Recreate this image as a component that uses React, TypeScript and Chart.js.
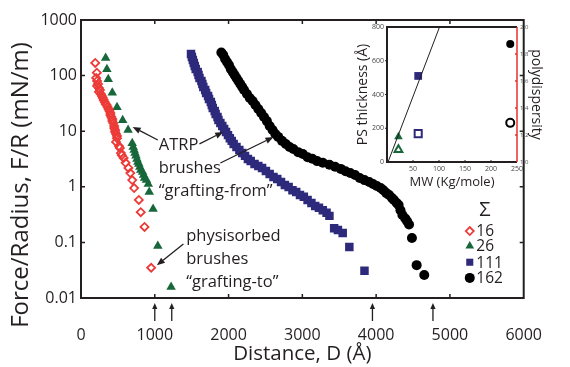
import React, { useEffect, useRef } from 'react';
import { Chart, registerables } from 'chart.js';
import { drawPoint } from 'chart.js/helpers';

Chart.register(...registerables);

const FONT = '"Open Sans", sans-serif';
const INK = '#231f20';
const RED = '#ec3b37';
const GREEN = '#17673a';
const NAVY = '#2d2a7c';
const BLACK = '#000000';
const PD_RED = '#e8322c';

// ---- main chart data (Distance D in Å, Force/Radius in mN/m) ----
const redD = [193, 215, 206, 218, 231, 218, 244, 257, 244, 270, 283, 296, 308, 321, 334, 347, 360, 373, 386, 398, 398, 411, 424, 424, 437, 450, 450, 463, 463, 475, 488, 488, 475, 514, 527, 540, 553, 578, 604, 643, 668, 694, 720, 784, 810, 861, 951];
const redF = [169, 113, 90.6, 80, 70.6, 65, 59.8, 55.1, 50.7, 46.7, 43, 39.6, 36.4, 33.5, 30.8, 29.6, 27.2, 25.1, 23.1, 21.2, 19.5, 18, 16.6, 15.2, 14, 12.4, 11.4, 10.5, 9.7, 8.9, 8.2, 7.5, 6.4, 5.4, 5.0, 4.05, 3.7, 3.3, 2.7, 2.18, 1.77, 1.32, 0.95, 0.58, 0.35, 0.19, 0.035];

const greenD = [334, 351, 369, 424, 488, 565, 638, 694, 707, 720, 732, 745, 758, 771, 784, 797, 810, 835, 848, 861, 887, 912, 925, 977, 1041, 1221];
const greenF = [207, 130, 86, 49, 27, 15.8, 10.5, 6.1, 5.2, 4.6, 4.05, 3.6, 3.16, 2.8, 2.57, 2.27, 2.0, 1.85, 1.63, 1.44, 1.32, 1.12, 0.81, 0.40, 0.086, 0.0158];

const navyD = [1491, 1503, 1516, 1529, 1542, 1555, 1581, 1593, 1606, 1632, 1645, 1658, 1683, 1696, 1722, 1735, 1760, 1773, 1786, 1812, 1825, 1850, 1863, 1889, 1915, 1940, 1966, 1992, 2017, 2043, 2069, 2107, 2146, 2185, 2223, 2262, 2300, 2352, 2403, 2454, 2506, 2557, 2609, 2660, 2711, 2763, 2814, 2866, 2917, 2968, 3020, 3071, 3123, 3174, 3225, 3277, 3328, 3367, 3431, 3482, 3547, 3637, 3842];
const navyF = [244, 216, 191, 169, 149, 131, 116, 103, 90.6, 80, 70.6, 62.4, 55.1, 48.6, 43, 37.9, 33.5, 29.6, 26.1, 23.1, 20.4, 18, 15.9, 14, 12.4, 11, 9.7, 8.5, 7.5, 6.7, 5.9, 5.2, 4.6, 4.05, 3.6, 3.16, 2.9, 2.57, 2.37, 2.18, 1.92, 1.7, 1.5, 1.38, 1.22, 1.08, 0.99, 0.87, 0.81, 0.71, 0.66, 0.58, 0.51, 0.45, 0.42, 0.38, 0.34, 0.30, 0.18, 0.167, 0.148, 0.083, 0.031];

const blackD = [1902, 1928, 1953, 1979, 2005, 2030, 2056, 2082, 2107, 2133, 2159, 2185, 2210, 2249, 2287, 2326, 2364, 2403, 2442, 2480, 2519, 2557, 2596, 2634, 2673, 2724, 2776, 2827, 2878, 2943, 3007, 3071, 3135, 3200, 3277, 3367, 3444, 3521, 3585, 3649, 3714, 3778, 3842, 3906, 3958, 4009, 4061, 4099, 4138, 4176, 4215, 4241, 4279, 4305, 4330, 4356, 4395, 4420, 4446, 4485, 4549, 4652];
const blackF = [260, 235, 199, 176, 155, 131, 116, 102.5, 90.5, 80, 70.6, 62.4, 55.1, 46.7, 39.6, 34.9, 29.6, 25.1, 21.2, 18, 15.2, 12.4, 10.5, 8.9, 7.9, 6.7, 5.9, 5.2, 4.8, 4.2, 3.9, 3.4, 3.2, 2.9, 2.7, 2.5, 2.3, 2.1, 1.9, 1.77, 1.63, 1.44, 1.32, 1.22, 1.12, 1.03, 0.95, 0.87, 0.77, 0.71, 0.63, 0.58, 0.51, 0.47, 0.38, 0.31, 0.27, 0.24, 0.21, 0.12, 0.039, 0.026];

const xTicks = [0, 1000, 2000, 3000, 4000, 5000, 6000];
const yTicks = [0.01, 0.1, 1, 10, 100, 1000];
const endArrowsD = [1000, 1230, 3950, 4770];

const legendLabels = ['16', '26', '111', '162'];
const legendY = [0.16, 0.086, 0.044, 0.023];
const legendMarkerX = 5269;
const legendTextX = 5358;
const sigmaPos = [5474, 0.38];

const noteTexts = [
  { text: 'ATRP', x: 1054, y: 5.65 },
  { text: 'brushes', x: 1054, y: 2.18 },
  { text: '\u201cgrafting-from\u201d', x: 1054, y: 0.84 },
  { text: 'physisorbed', x: 1426, y: 0.13 },
  { text: 'brushes', x: 1426, y: 0.05 },
  { text: '\u201cgrafting-to\u201d', x: 1426, y: 0.0194 },
];
const noteArrows = [
  { from: [1041, 6.95], to: [700, 11.9] },
  { from: [1606, 5.9], to: [1928, 9.7] },
  { from: [1889, 2.68], to: [2609, 7.87] },
  { from: [1388, 0.094], to: [1028, 0.039] },
];

// ---- inset data ----
const insetMW = [22, 60, 237];
const insetThickness = [150, 510, 699];
const insetPolydispersity = [1.09, 1.21, 1.29];
const fitMW = [2, 101];
const fitThickness = [0, 800];

const seriesStyles = [
  { style: 'rectRot', radius: 4, color: RED, fill: 'rgba(0,0,0,0)', bw: 1.8 },
  { style: 'triangle', radius: 5.5, color: GREEN, fill: GREEN, bw: 0 },
  { style: 'rect', radius: 6, color: NAVY, fill: NAVY, bw: 0 },
  { style: 'circle', radius: 5, color: BLACK, fill: BLACK, bw: 0 },
];

function pts(xs: number[], ys: number[]) {
  return xs.map((x, i) => ({ x, y: ys[i] }));
}

function arrow(ctx: CanvasRenderingContext2D, x1: number, y1: number, x2: number, y2: number, len: number, half: number) {
  const a = Math.atan2(y2 - y1, x2 - x1);
  const bx = x2 - len * Math.cos(a);
  const by = y2 - len * Math.sin(a);
  ctx.beginPath();
  ctx.moveTo(x1, y1);
  ctx.lineTo(bx, by);
  ctx.stroke();
  ctx.beginPath();
  ctx.moveTo(x2, y2);
  ctx.lineTo(bx + half * Math.sin(a), by - half * Math.cos(a));
  ctx.lineTo(bx - half * Math.sin(a), by + half * Math.cos(a));
  ctx.closePath();
  ctx.fill();
}

const mainDecor = {
  id: 'mainDecor',
  afterDraw(chart: any) {
    const { ctx, chartArea: a, scales } = chart;
    const xs = scales.x;
    const ys = scales.y;
    ctx.save();
    ctx.strokeStyle = INK;
    ctx.lineWidth = 2;
    ctx.strokeRect(a.left, a.top, a.right - a.left, a.bottom - a.top);
    ctx.lineWidth = 1.5;
    ctx.beginPath();
    xTicks.slice(1, -1).forEach((v) => {
      const px = xs.getPixelForValue(v);
      ctx.moveTo(px, a.top); ctx.lineTo(px, a.top + 4);
      ctx.moveTo(px, a.bottom); ctx.lineTo(px, a.bottom - 4);
    });
    yTicks.slice(1, -1).forEach((v) => {
      const py = ys.getPixelForValue(v);
      ctx.moveTo(a.left, py); ctx.lineTo(a.left + 4, py);
      ctx.moveTo(a.right, py); ctx.lineTo(a.right - 4, py);
    });
    ctx.stroke();
    ctx.fillStyle = INK;
    ctx.lineWidth = 1.3;
    endArrowsD.forEach((d) => {
      const px = xs.getPixelForValue(d);
      arrow(ctx, px, a.bottom + 23, px, a.bottom + 5, 6, 2.6);
    });
    ctx.save();
    ctx.translate(21, 185);
    ctx.rotate(-Math.PI / 2);
    ctx.font = `24px ${FONT}`;
    ctx.textAlign = 'center';
    ctx.textBaseline = 'middle';
    ctx.fillStyle = INK;
    ctx.fillText('Force/Radius, F/R (mN/m)', 0, 0);
    ctx.restore();
    ctx.font = `16.5px ${FONT}`;
    ctx.textAlign = 'left';
    ctx.textBaseline = 'middle';
    ctx.fillStyle = INK;
    noteTexts.forEach((t) => ctx.fillText(t.text, xs.getPixelForValue(t.x), ys.getPixelForValue(t.y)));
    ctx.lineWidth = 1.3;
    noteArrows.forEach((n) => {
      arrow(ctx, xs.getPixelForValue(n.from[0]), ys.getPixelForValue(n.from[1]), xs.getPixelForValue(n.to[0]), ys.getPixelForValue(n.to[1]), 8, 3.2);
    });
    ctx.font = `20px ${FONT}`;
    ctx.textAlign = 'center';
    ctx.fillText('\u03a3', xs.getPixelForValue(sigmaPos[0]), ys.getPixelForValue(sigmaPos[1]));
    ctx.font = `15.5px ${FONT}`;
    ctx.textAlign = 'left';
    legendLabels.forEach((lab, i) => {
      const st = seriesStyles[i];
      const py = ys.getPixelForValue(legendY[i]);
      ctx.save();
      ctx.fillStyle = st.fill;
      ctx.strokeStyle = st.color;
      ctx.lineWidth = st.bw;
      const r = i === 2 ? 5 : i === 1 ? 5 : st.radius;
      drawPoint(ctx, { pointStyle: st.style, radius: r, borderWidth: st.bw, rotation: 0 } as any, xs.getPixelForValue(legendMarkerX), py);
      ctx.restore();
      ctx.fillStyle = INK;
      ctx.fillText(lab, xs.getPixelForValue(legendTextX), py + 1);
    });
    ctx.restore();
  },
};

const insetDecor = {
  id: 'insetDecor',
  beforeDatasetsDraw(chart: any) {
    const { ctx, chartArea: a } = chart;
    ctx.save();
    ctx.fillStyle = '#ffffff';
    ctx.fillRect(a.left, a.top, a.right - a.left, a.bottom - a.top);
    ctx.restore();
  },
  afterDraw(chart: any) {
    const { ctx, chartArea: a, scales } = chart;
    ctx.save();
    ctx.strokeStyle = INK;
    ctx.lineWidth = 2;
    ctx.beginPath();
    ctx.moveTo(a.right, a.top);
    ctx.lineTo(a.left, a.top);
    ctx.lineTo(a.left, a.bottom);
    ctx.lineTo(a.right, a.bottom);
    ctx.stroke();
    ctx.lineWidth = 1;
    ctx.beginPath();
    [200, 400, 600].forEach((v) => {
      const py = scales.y.getPixelForValue(v);
      ctx.moveTo(a.left - 2, py); ctx.lineTo(a.left, py);
    });
    [50, 100, 150, 200].forEach((v) => {
      const px = scales.x.getPixelForValue(v);
      ctx.moveTo(px, a.bottom); ctx.lineTo(px, a.bottom - 2);
    });
    ctx.stroke();
    ctx.strokeStyle = PD_RED;
    ctx.lineWidth = 1.5;
    ctx.beginPath();
    ctx.moveTo(a.right, a.top);
    ctx.lineTo(a.right, a.bottom);
    [1.2, 1.4, 1.6, 1.8].forEach((v) => {
      const py = scales.y2.getPixelForValue(v);
      ctx.moveTo(a.right - 2, py); ctx.lineTo(a.right, py);
    });
    ctx.stroke();
    ctx.restore();
  },
};

export default function App() {
  const mainRef = useRef<HTMLCanvasElement>(null);
  const insetRef = useRef<HTMLCanvasElement>(null);

  useEffect(() => {
    document.body.style.margin = '0';
    Chart.defaults.font.family = FONT;
    Chart.defaults.color = INK;

    const seriesData = [pts(redD, redF), pts(greenD, greenF), pts(navyD, navyF), pts(blackD, blackF)];
    const main = new Chart(mainRef.current as HTMLCanvasElement, {
      type: 'scatter',
      data: {
        datasets: seriesData.map((d, i) => ({
          label: legendLabels[i],
          data: d,
          pointStyle: seriesStyles[i].style as any,
          pointRadius: seriesStyles[i].radius,
          pointBackgroundColor: seriesStyles[i].fill,
          pointBorderColor: seriesStyles[i].color,
          pointBorderWidth: seriesStyles[i].bw,
          showLine: false,
        })),
      },
      options: {
        responsive: false,
        animation: false,
        layout: { padding: { top: 20, right: 22, left: 0, bottom: 0 } },
        plugins: { legend: { display: false }, tooltip: { enabled: false } },
        scales: {
          x: {
            type: 'linear',
            min: 0,
            max: 6000,
            afterBuildTicks: (s: any) => { s.ticks = xTicks.map((v) => ({ value: v })); },
            ticks: { font: { size: 16 }, padding: 28, color: INK, maxRotation: 0, autoSkip: false, callback: (v: any) => String(v) },
            grid: { display: false, drawTicks: false },
            border: { display: false },
            title: { display: true, text: 'Distance, D (\u00c5)', font: { size: 20.5 }, color: INK, padding: { top: 0, bottom: 1 } },
            afterFit: (s: any) => { s.height = 69; },
          },
          y: {
            type: 'logarithmic',
            min: 0.01,
            max: 1000,
            afterBuildTicks: (s: any) => { s.ticks = yTicks.map((v) => ({ value: v })); },
            ticks: { font: { size: 16 }, padding: 4, color: INK, autoSkip: false, callback: (v: any) => String(v) },
            grid: { display: false, drawTicks: false },
            border: { display: false },
            afterFit: (s: any) => { s.width = 81; },
          },
        },
      } as any,
      plugins: [mainDecor],
    });

    const inset = new Chart(insetRef.current as HTMLCanvasElement, {
      type: 'scatter',
      data: {
        datasets: [
          { type: 'line', data: pts(fitMW, fitThickness), borderColor: INK, borderWidth: 1, pointRadius: 0, yAxisID: 'y' } as any,
          { data: [{ x: insetMW[0], y: insetThickness[0] }], pointStyle: 'triangle', pointRadius: 5, pointBackgroundColor: GREEN, pointBorderColor: GREEN, pointBorderWidth: 0, yAxisID: 'y' },
          { data: [{ x: insetMW[0], y: insetPolydispersity[0] }], pointStyle: 'triangle', pointRadius: 4.5, pointBackgroundColor: '#ffffff', pointBorderColor: GREEN, pointBorderWidth: 2, yAxisID: 'y2' },
          { data: [{ x: insetMW[1], y: insetThickness[1] }], pointStyle: 'rect', pointRadius: 5.5, pointBackgroundColor: NAVY, pointBorderColor: NAVY, pointBorderWidth: 0, yAxisID: 'y' },
          { data: [{ x: insetMW[1], y: insetPolydispersity[1] }], pointStyle: 'rect', pointRadius: 5, pointBackgroundColor: '#ffffff', pointBorderColor: NAVY, pointBorderWidth: 2, yAxisID: 'y2' },
          { data: [{ x: insetMW[2], y: insetThickness[2] }], pointStyle: 'circle', pointRadius: 4, pointBackgroundColor: BLACK, pointBorderColor: BLACK, pointBorderWidth: 0, yAxisID: 'y' },
          { data: [{ x: insetMW[2], y: insetPolydispersity[2] }], pointStyle: 'circle', pointRadius: 4, pointBackgroundColor: '#ffffff', pointBorderColor: BLACK, pointBorderWidth: 2, yAxisID: 'y2' },
        ],
      },
      options: {
        responsive: false,
        animation: false,
        layout: { padding: { top: 17, right: 0, left: 0, bottom: 0 } },
        plugins: { legend: { display: false }, tooltip: { enabled: false } },
        scales: {
          x: {
            type: 'linear',
            min: 0,
            max: 250,
            ticks: { stepSize: 50, font: { size: 7 }, padding: 3, color: '#444', callback: (v: any) => (v === 0 ? '' : String(v)) },
            grid: { display: false, drawTicks: false },
            border: { display: false },
            title: { display: true, text: 'MW (Kg/mole)', font: { size: 13 }, color: INK, padding: { top: 0, bottom: 5 } },
            afterFit: (s: any) => { s.height = 33; },
          },
          y: {
            position: 'left',
            min: 0,
            max: 800,
            ticks: { stepSize: 200, font: { size: 7 }, padding: 3, color: '#444' },
            grid: { display: false, drawTicks: false },
            border: { display: false },
            title: { display: true, text: 'PS thickness (\u00c5)', font: { size: 14 }, color: INK, padding: { top: 15, bottom: 0 } },
            afterFit: (s: any) => { s.width = 47; },
          },
          y2: {
            position: 'right',
            min: 1,
            max: 2,
            ticks: { stepSize: 0.2, font: { size: 6 }, padding: 3, color: '#555', callback: (v: any) => Number(v).toFixed(1) },
            grid: { display: false, drawTicks: false },
            border: { display: false },
            title: { display: true, text: 'polydispersity', font: { size: 14 }, color: INK, padding: { top: 11, bottom: 0 } },
            afterFit: (s: any) => { s.width = 38; },
          },
        },
      } as any,
      plugins: [insetDecor],
    });

    return () => {
      main.destroy();
      inset.destroy();
    };
  }, []);

  return (
    <div style={{ position: 'relative', width: 570, height: 367, background: '#fff' }}>
      <canvas ref={mainRef} width={570} height={367} style={{ position: 'absolute', left: 0, top: 0 }} />
      <canvas ref={insetRef} width={215} height={185} style={{ position: 'absolute', left: 340, top: 10 }} />
    </div>
  );
}
